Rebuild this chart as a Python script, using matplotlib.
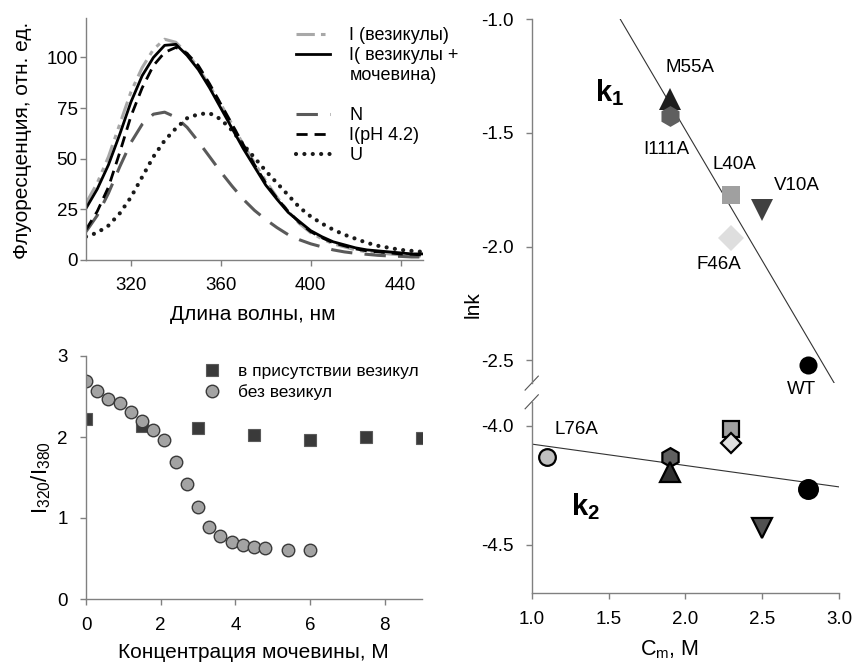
import matplotlib
matplotlib.use("Agg")
import matplotlib.pyplot as plt
import numpy as np

plt.rcParams['font.family'] = ['Liberation Sans', 'DejaVu Sans']
plt.rcParams['axes.unicode_minus'] = False
plt.rcParams['mathtext.fontset'] = 'custom'
plt.rcParams['mathtext.rm'] = 'Liberation Sans'
plt.rcParams['mathtext.it'] = 'Liberation Sans:italic'
plt.rcParams['mathtext.bf'] = 'Liberation Sans:bold'

# --- spectra (top left) ---
wl = [300, 305, 310, 315, 320, 325, 330, 335, 340, 345, 350, 355, 360, 365, 370, 375,
      380, 385, 390, 395, 400, 405, 410, 415, 420, 425, 430, 435, 440, 445, 450]
i_ves = [28, 38, 51, 67, 83, 95, 104, 109, 107.5, 102, 95, 86, 77, 67, 57, 48,
         39, 31, 24, 18, 13.5, 10.5, 8, 6.5, 5, 4, 3.5, 3, 2.5, 2, 2]
i_ves_urea = [25.5, 35, 47, 62, 78, 91, 100, 106, 106.5, 101, 94, 85, 75, 65, 55, 46,
              37, 30, 23.5, 19, 14.5, 11.5, 9, 7.5, 6, 5, 4.5, 4, 3.5, 3, 3]
native = [14, 22, 33, 46, 58, 67, 72, 73, 70.5, 65.5, 58.5, 51, 43.5, 36.5, 30, 24.5,
          20, 16, 12.5, 10, 8, 6.5, 5, 4, 3.3, 2.8, 2.3, 2, 1.8, 1.5, 1.5]
i_ph42 = [15, 24, 36, 53, 71, 85, 96, 102.5, 105, 102, 96, 87, 77, 67, 57, 47,
          38, 30.5, 24, 18.5, 14, 11, 8.5, 7, 5.5, 4.5, 4, 3.5, 3, 2.8, 2.5]
unfolded = [11.5, 13.5, 17, 23, 31, 41, 51, 59, 65, 70, 72, 72.5, 69.5, 64, 57, 50.5,
            44, 38, 32, 26, 21.5, 18, 15, 12.5, 10.5, 8.5, 7, 6, 5, 4.5, 4]

# --- I320/I380 vs urea (bottom left) ---
urea_ves = [0, 1.5, 3, 4.5, 6, 7.5, 9]
ratio_ves = [2.22, 2.13, 2.11, 2.02, 1.96, 2.00, 1.99]
urea_free = [0, 0.3, 0.6, 0.9, 1.2, 1.5, 1.8, 2.1, 2.4, 2.7, 3.0, 3.3, 3.6, 3.9, 4.2, 4.5, 4.8, 5.4, 6.0]
ratio_free = [2.69, 2.57, 2.47, 2.42, 2.31, 2.20, 2.09, 1.96, 1.69, 1.42, 1.13, 0.885,
              0.78, 0.70, 0.67, 0.64, 0.63, 0.60, 0.60]

# --- lnk vs Cm (right) ---
k1_names = ['M55A', 'I111A', 'L40A', 'V10A', 'F46A', 'WT']
k1_cm = [1.9, 1.9, 2.3, 2.5, 2.3, 2.8]
k1_lnk = [-1.35, -1.425, -1.773, -1.84, -1.963, -2.52]
k2_names = ['L76A', 'I111A', 'M55A', 'L40A', 'F46A', 'V10A', 'WT']
k2_cm = [1.1, 1.9, 1.9, 2.3, 2.3, 2.5, 2.8]
k2_lnk = [-4.132, -4.13, -4.193, -4.014, -4.074, -4.43, -4.267]

W, H = 855, 664
fig = plt.figure(figsize=(W / 100, H / 100), dpi=100)
SP = '#808080'


def style(ax, xpad=8, ypad=3):
    for s in ['top', 'right']:
        ax.spines[s].set_visible(False)
    for s in ['left', 'bottom']:
        ax.spines[s].set_color(SP)
        ax.spines[s].set_linewidth(1)
    ax.tick_params(direction='out', length=4, width=1, color=SP, labelsize=13.5)
    ax.tick_params(axis='x', pad=xpad)
    ax.tick_params(axis='y', pad=ypad)


def box(l, t, r, b):
    return [l / W, 1 - b / H, (r - l) / W, (b - t) / H]


# top left
ax1 = fig.add_axes(box(86, 18, 423, 260))
style(ax1, 8, 2)
h_ves, = ax1.plot(wl, i_ves, color='#a8a8a8', lw=2.2, dashes=(6, 2, 1.5, 2, 1.5, 2))
h_n, = ax1.plot(wl, native, color='#5a5a5a', lw=2.2, dashes=(7, 4))
h_u, = ax1.plot(wl, unfolded, color='#1a1a1a', lw=3, dashes=(0.01, 2), dash_capstyle='round')
h_ph, = ax1.plot(wl, i_ph42, color='black', lw=2, dashes=(4, 2.5))
h_urea, = ax1.plot(wl, i_ves_urea, color='black', lw=2)
ax1.set_xlim(300, 450)
ax1.set_ylim(0, 119.5)
ax1.set_xticks([320, 360, 400, 440])
ax1.set_yticks([0, 25, 50, 75, 100])
blank = plt.Line2D([], [], color='none')
ax1.legend([h_ves, h_urea, blank, blank, h_n, h_ph, h_u],
           ['I (везикулы)', 'I( везикулы +', 'мочевина)', ' ', 'N', 'I(pH 4.2)', 'U'],
           loc='upper left', bbox_to_anchor=(296 / W, 1 - 27 / H), bbox_transform=fig.transFigure,
           frameon=False, fontsize=13, handlelength=1.9, handletextpad=1.05,
           labelspacing=0.17, borderpad=0, borderaxespad=0)
fig.text(253 / W, 1 - 315 / H, 'Длина волны, нм', fontsize=15, ha='center', va='center')
fig.text(23 / W, 1 - 140 / H, 'Флуоресценция, отн. ед.', fontsize=15, rotation=90,
         ha='center', va='center')

# bottom left
ax2 = fig.add_axes(box(86, 356, 422, 599))
style(ax2, 9, 9)
ax2.plot(urea_ves, ratio_ves, 's', ms=8, mfc='#3a3a3a', mec='#5a5a5a', mew=0.8,
         label='в присутствии везикул')
ax2.plot(urea_free, ratio_free, 'o', ms=9, mfc='#a3a3a3', mec='#3a3a3a', mew=1,
         label='без везикул')
ax2.set_xlim(0, 9)
ax2.set_ylim(0, 3)
ax2.set_xticks([0, 2, 4, 6, 8])
ax2.set_yticks([0, 1, 2, 3])
ax2.legend(loc='upper left', bbox_to_anchor=(203 / W, 1 - 364 / H), bbox_transform=fig.transFigure,
           frameon=False, fontsize=12.5, handlelength=1.0, handletextpad=1.0,
           labelspacing=0.3, borderpad=0, borderaxespad=0, numpoints=1)
fig.text(253 / W, 1 - 653 / H, 'Концентрация мочевины, М', fontsize=15, ha='center', va='center')
fig.text(41 / W, 1 - 478 / H, r'$\mathregular{I_{320}/I_{380}}$', fontsize=16, rotation=90,
         ha='center', va='center')

# right, broken axis
axt = fig.add_axes(box(531.7, 19.3, 839, 383.1))
axb = fig.add_axes(box(531.7, 401.8, 839, 592.7))
style(axt, 8, 9)
style(axb, 9, 9)
axt.spines['bottom'].set_visible(False)
axt.tick_params(axis='x', bottom=False, labelbottom=False)
for ax in (axt, axb):
    ax.set_xlim(1.0, 3.0)
    ax.yaxis.set_major_formatter(matplotlib.ticker.FormatStrFormatter('%.1f'))
axb.xaxis.set_major_formatter(matplotlib.ticker.FormatStrFormatter('%.1f'))
axt.set_ylim(-2.6, -1.0)
axt.set_yticks([-2.5, -2.0, -1.5, -1.0])
axb.set_ylim(-4.7, -3.9)
axb.set_yticks([-4.5, -4.0])
axb.set_xticks([1.0, 1.5, 2.0, 2.5, 3.0])

xs = np.array([1.0, 3.0])
p1 = np.polyfit(k1_cm, k1_lnk, 1)
p2 = np.polyfit(k2_cm, k2_lnk, 1)
axt.plot(xs, np.polyval(p1, xs), color='#333333', lw=0.8, zorder=1)
axb.plot(xs, np.polyval(p2, xs), color='#333333', lw=0.8, zorder=1)

k1_style = {
    'M55A': ('^', 16, '#1e1e1e'),
    'I111A': ('h', 15, '#5f5f5f'),
    'L40A': ('s', 12.5, '#a0a0a0'),
    'V10A': ('v', 16, '#404040'),
    'F46A': ('D', 13, '#dedede'),
    'WT': ('o', 13, 'black'),
}
k1_offsets = {
    'M55A': (14.4, 22.8), 'I111A': (-2.4, -24.5), 'L40A': (2.4, 22.3),
    'V10A': (24.8, 18), 'F46A': (-9.1, -19.2), 'WT': (-4.8, -17.5),
}
for name, x, y in zip(k1_names, k1_cm, k1_lnk):
    m, s, c = k1_style[name]
    axt.plot(x, y, m, ms=s, mfc=c, mec=c, mew=0, zorder=3, clip_on=False)
    axt.annotate(name, (x, y), xytext=k1_offsets[name], textcoords='offset points',
                 ha='center', va='center', fontsize=13.5, annotation_clip=False)

k2_style = {
    'L76A': ('o', 12, '#c0c0c0'),
    'I111A': ('h', 13.5, '#606060'),
    'M55A': ('^', 14, '#303030'),
    'L40A': ('s', 11, '#a0a0a0'),
    'F46A': ('D', 10.5, '#e0e0e0'),
    'V10A': ('v', 14, '#505050'),
    'WT': ('o', 13.5, 'black'),
}
for name, x, y in zip(k2_names, k2_cm, k2_lnk):
    m, s, c = k2_style[name]
    axb.plot(x, y, m, ms=s, mfc=c, mec='black', mew=1.6, zorder=3, clip_on=False)
axb.annotate('L76A', (k2_cm[0], k2_lnk[0]), xytext=(20.9, 19.7), textcoords='offset points',
             ha='center', va='center', fontsize=13.5)

axt.text(1.51, -1.324, r'$\mathbf{k_1}$', fontsize=21, ha='center', va='center')
axb.text(1.347, -4.34, r'$\mathbf{k_2}$', fontsize=21, ha='center', va='center')

# break marks
dx = 6.6 / 307.3
axt.plot([-dx, dx], [-7 / 363.8, 7 / 363.8], transform=axt.transAxes, color='#555555',
         lw=0.8, clip_on=False)
axb.plot([-dx, dx], [1 - 7 / 190.9, 1 + 7 / 190.9], transform=axb.transAxes, color='#555555',
         lw=0.8, clip_on=False)

fig.text(473 / W, 1 - 305 / H, 'lnk', fontsize=15, rotation=90, ha='center', va='center')
fig.text(669 / W, 1 - 650 / H, r'C$_\mathregular{m}$, M', fontsize=15.5, ha='center', va='center')

fig.savefig('out.png', dpi=100)
